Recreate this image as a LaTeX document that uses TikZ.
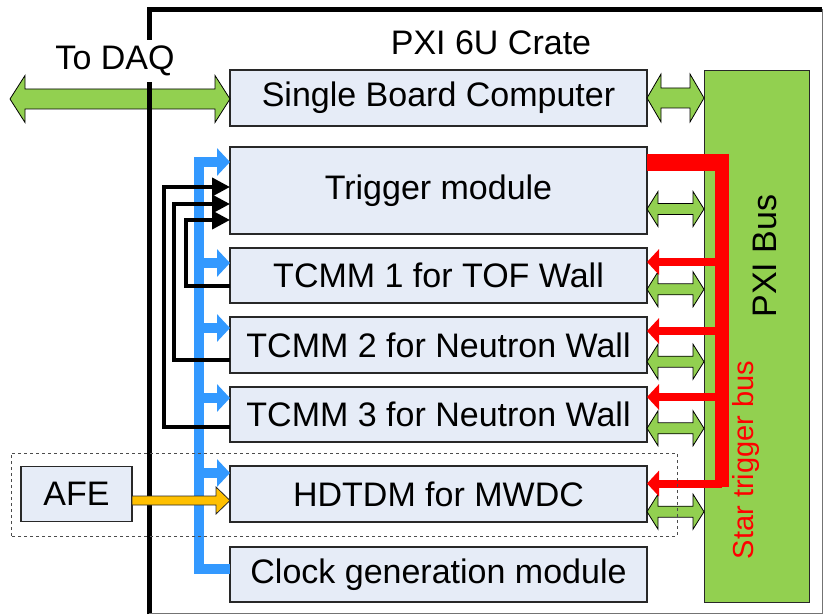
\documentclass[tikz,border=0pt]{standalone}
\usepackage{fontspec}
\setmainfont{Liberation Sans}
\usepackage{tikz}
\usetikzlibrary{arrows.meta, positioning, calc}
\definecolor{mygreen}{RGB}{146,208,80}
\definecolor{myblue}{RGB}{51,153,255}
\definecolor{myred}{RGB}{255,0,0}
\definecolor{myamber}{RGB}{255,192,0}
\definecolor{boxfill}{RGB}{230,236,247}
\definecolor{mydark}{RGB}{40,40,40}
\tikzset{
  board/.style={rectangle, draw=mydark, fill=boxfill,
    minimum width=417pt, minimum height=55pt, inner sep=0pt, outer sep=0pt,
    font=\fontsize{34}{40}\selectfont, line width=1.2pt},
  busbox/.style={rectangle, draw=mydark, fill=mygreen,
    minimum width=105pt, minimum height=531pt, inner sep=0pt, outer sep=0pt, line width=1pt},
  label/.style={font=\fontsize{34}{40}\selectfont, inner sep=0pt},
  crate/.style={line width=5pt, color=black},
  crateedge/.style={line width=0.8pt, color=black!55},
  pxiarrow/.style={fill=mygreen, draw=black, line width=0.8pt},
  afearrow/.style={fill=myamber, draw=mydark, line width=0.8pt},
  trigbus/.style={color=myred},
  trigarrow/.style={-{Triangle[width=25pt,length=12pt]}, line width=8pt, color=myred},
  clkarrow/.style={-{Triangle[width=27pt,length=13pt]}, line width=10pt, color=myblue},
  fbarrow/.style={-{Triangle[width=18pt,length=18pt]}, line width=4pt, color=black},
  group/.style={dashed, draw=black!70, line width=0.8pt}
}
% double block arrow: left end, right end, shaft half, head half, head length
\newcommand{\dblarrow}[5]{%
  \filldraw[pxiarrow] let \p1=#1, \p2=#2 in
    (\x1,\y1) -- (\x1+#5,\y1+#4) -- (\x1+#5,\y1+#3) -- (\x2-#5,\y1+#3)
    -- (\x2-#5,\y1+#4) -- (\x2,\y1) -- (\x2-#5,\y1-#4) -- (\x2-#5,\y1-#3)
    -- (\x1+#5,\y1-#3) -- (\x1+#5,\y1-#4) -- cycle;}
% single block arrow
\newcommand{\blkarrow}[5]{%
  \filldraw[afearrow] let \p1=#1, \p2=#2 in
    (\x1,\y1+#3) -- (\x2-#5,\y1+#3) -- (\x2-#5,\y1+#4) -- (\x2,\y1)
    -- (\x2-#5,\y1-#4) -- (\x2-#5,\y1-#3) -- (\x1,\y1-#3) -- cycle;}

\begin{document}
\begin{tikzpicture}[x=1pt, y=1pt]
  \useasboundingbox (0,0) rectangle (824,614);
  % Modules
  \node[board, minimum height=56pt] (sbc) at (438.5,516) {Single Board Computer};
  \node[board, minimum height=87pt, below=21pt of sbc] (trig) {Trigger module};
  \node[board, below=14pt of trig] (tcmm1) {TCMM 1 for TOF Wall};
  \node[board, minimum height=56pt, below=14pt of tcmm1] (tcmm2) {TCMM 2 for Neutron Wall};
  \node[board, below=14pt of tcmm2] (tcmm3) {TCMM 3 for Neutron Wall};
  \node[board, minimum height=56pt, below=24pt of tcmm3] (hdtdm) {HDTDM for MWDC};
  \node[board, below=25pt of hdtdm] (clk) {Clock generation module};
  \node[board, minimum width=111pt, left=98pt of hdtdm] (afe) {AFE};
  \node[busbox] (pxi) at (756.5,277.5) {};
  % Crate and DAQ link
  \coordinate (daq) at (10,515);
  \dblarrow{(daq)}{(sbc.west)}{10pt}{23.5pt}{15pt}
  \draw[crate] (149,0) |- (822,604.5);
  \draw[crateedge] (822,604.5) |- (149,1);
  \node[label, fill=white, minimum height=42pt, inner xsep=4pt] (todaq) at (115,553) {To DAQ};
  \node[label] (cratename) at (491,571) {PXI 6U Crate};
  % PXI bus links
  \dblarrow{(sbc.east)}{(pxi.west)}{10pt}{24pt}{14pt}
  \dblarrow{([yshift=-18.5pt]trig.east)}{(pxi.west)}{5.5pt}{17.5pt}{11pt}
  \dblarrow{([yshift=-13.8pt]tcmm1.east)}{(pxi.west)}{5.5pt}{17.5pt}{11pt}
  \dblarrow{([yshift=-16.7pt]tcmm2.east)}{(pxi.west)}{5.5pt}{17.5pt}{11pt}
  \dblarrow{([yshift=-13.8pt]tcmm3.east)}{(pxi.west)}{5.5pt}{17.5pt}{11pt}
  \dblarrow{([yshift=-17.7pt]hdtdm.east)}{(pxi.west)}{5.5pt}{17.5pt}{11pt}
  \node[label, rotate=90] (pxiname) at (765,358) {PXI Bus};
  % Star trigger bus
  \coordinate (sttop) at (722,460);
  \coordinate (stbot) at (722,127);
  \coordinate (st1) at ([yshift=13.5pt]tcmm1.east);
  \coordinate (st2) at ([yshift=14pt]tcmm2.east);
  \coordinate (st3) at ([yshift=17.5pt]tcmm3.east);
  \coordinate (st4) at ([yshift=10.5pt]hdtdm.east);
  \draw[trigbus, line width=17pt] ([yshift=27.5pt]trig.east) -- ++(82,0);
  \draw[trigbus, line width=14pt] (sttop) -- (stbot);
  \draw[trigarrow] (sttop |- st1) -- (st1);
  \draw[trigarrow] (sttop |- st2) -- (st2);
  \draw[trigarrow] (sttop |- st3) -- (st3);
  \draw[trigarrow] (sttop |- st4) -- (st4);
  \node[label, rotate=90, font=\fontsize{29}{34}\selectfont, text=myred] (stname) at (746,154) {Star trigger bus};
  % Clock distribution
  \coordinate (clkbus) at (199,452);
  \coordinate (ck1) at ([yshift=12.5pt]tcmm1.west);
  \coordinate (ck2) at ([yshift=17pt]tcmm2.west);
  \coordinate (ck3) at ([yshift=16.5pt]tcmm3.west);
  \coordinate (ck4) at ([yshift=21pt]hdtdm.west);
  \draw[clkarrow] ([yshift=5.5pt]clk.west) -| (clkbus) -- (clkbus -| trig.west);
  \draw[clkarrow] (clkbus |- ck1) -- (ck1);
  \draw[clkarrow] (clkbus |- ck2) -- (ck2);
  \draw[clkarrow] (clkbus |- ck3) -- (ck3);
  \draw[clkarrow] (clkbus |- ck4) -- (ck4);
  % Trigger feedback
  \draw[fbarrow] ([yshift=-10.5pt]tcmm1.west) -- ++(-44.5,0) |- ([yshift=-29.5pt]trig.west);
  \draw[fbarrow] ([yshift=-15pt]tcmm2.west) -- ++(-56,0) |- ([yshift=-13.5pt]trig.west);
  \draw[fbarrow] ([yshift=-12.5pt]tcmm3.west) -- ++(-66.5,0) |- ([yshift=3.5pt]trig.west);
  % AFE input
  \blkarrow{([yshift=-6.5pt]afe.east)}{(hdtdm.west)}{4.5pt}{13.5pt}{14pt}
  \draw[group] (11,78) rectangle (677,161);
\end{tikzpicture}
\end{document}
